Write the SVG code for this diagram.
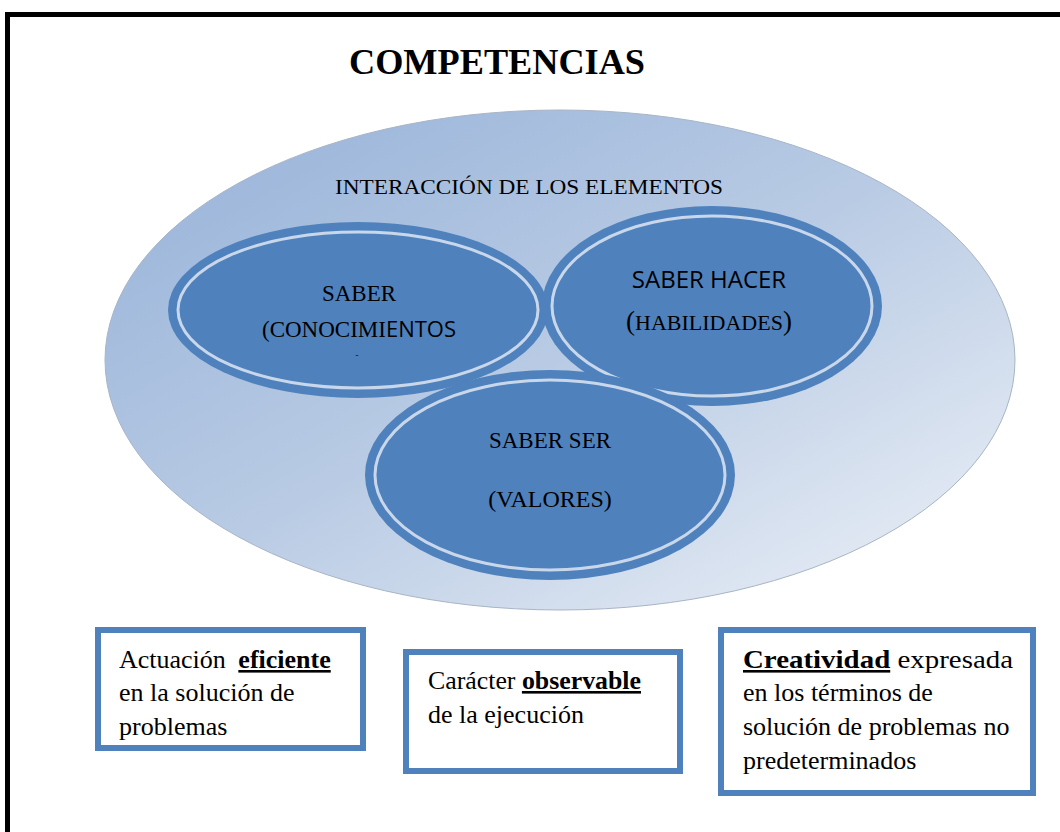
<svg xmlns="http://www.w3.org/2000/svg" width="1060" height="832" viewBox="0 0 1060 832">
<defs>
<linearGradient id="bg" x1="0" y1="0" x2="1" y2="1">
<stop offset="0" stop-color="#95b1d8"/>
<stop offset="0.5" stop-color="#b9cbe4"/>
<stop offset="1" stop-color="#eef2f8"/>
</linearGradient>
<style>
.t{font-family:"Liberation Serif","Times New Roman",serif;fill:#000}
.node .o{fill:#4f81bd}
.node .i{fill:#4f81bd;stroke:#c9d7eb;stroke-width:3}
.box{fill:#fff;stroke:#4f81bd;stroke-width:6}
.bt{font-family:"Liberation Serif","Times New Roman",serif;font-size:26px;fill:#000}
</style>
</defs>
<rect width="1060" height="832" fill="#fff"/>
<path d="M7.5 832 V14.5 H1060" fill="none" stroke="#000" stroke-width="5"/>
<text class="t" x="497" y="74" font-size="36" font-weight="bold" text-anchor="middle" textLength="296" lengthAdjust="spacingAndGlyphs">COMPETENCIAS</text>
<g id="outer">
<ellipse cx="560" cy="360" rx="455" ry="250" fill="url(#bg)" stroke="#a8b5c6" stroke-width="1"/>
<text class="t" x="529" y="194" font-size="21" text-anchor="middle" textLength="388" lengthAdjust="spacingAndGlyphs">INTERACCIÓN DE LOS ELEMENTOS</text>
</g>
<g id="saber" class="node">
<ellipse class="o" cx="358" cy="310" rx="190" ry="88"/>
<ellipse class="i" cx="358" cy="310" rx="180" ry="78"/>
<text class="t" x="359" y="301" font-size="23" text-anchor="middle">SABER</text>
<text class="t" x="359" y="337" font-size="23" text-anchor="middle">(CONOCIMI<tspan font-family="'Open Sans','Noto Sans',sans-serif" font-size="22">ENTOS</tspan></text>
<text class="t" x="357" y="358" font-size="9" text-anchor="middle">-</text>
</g>
<g id="saber-hacer" class="node">
<ellipse class="o" cx="712" cy="306" rx="170" ry="100"/>
<ellipse class="i" cx="712" cy="306" rx="160" ry="90"/>
<text x="709" y="288" font-size="24" text-anchor="middle" font-family="'Open Sans','Noto Sans',sans-serif" fill="#000">SABER HACER</text>
<text class="t" x="709" y="330" font-size="22" text-anchor="middle"><tspan font-size="27">(</tspan>HABILIDADES<tspan font-size="27">)</tspan></text>
</g>
<g id="saber-ser" class="node">
<ellipse class="o" cx="550" cy="475" rx="185" ry="105"/>
<ellipse class="i" cx="550" cy="475" rx="175" ry="95"/>
<text class="t" x="550" y="448" font-size="23" text-anchor="middle">SABER SER</text>
<text class="t" x="550" y="507" font-size="24" text-anchor="middle">(VALORES)</text>
</g>
<g id="connectors"></g>
<g id="box1">
<rect class="box" x="98" y="630" width="265" height="118"/>
<text class="bt" x="119" y="668">Actuación <tspan dx="6" font-weight="bold" text-decoration="underline">eficiente</tspan></text>
<text class="bt" x="119" y="701">en la solución de</text>
<text class="bt" x="119" y="735">problemas</text>
</g>
<g id="box2">
<rect class="box" x="406" y="652" width="274" height="119"/>
<text class="bt" x="428" y="689" textLength="213" lengthAdjust="spacingAndGlyphs">Carácter <tspan font-weight="bold" text-decoration="underline">observable</tspan></text>
<text class="bt" x="428" y="723">de la ejecución</text>
</g>
<g id="box3">
<rect class="box" x="721" y="630" width="312" height="163"/>
<text class="bt" x="743" y="668" textLength="270" lengthAdjust="spacingAndGlyphs"><tspan font-weight="bold" text-decoration="underline">Creatividad</tspan> expresada</text>
<text class="bt" x="743" y="701">en los términos de</text>
<text class="bt" x="743" y="735">solución de problemas no</text>
<text class="bt" x="743" y="769">predeterminados</text>
</g>
</svg>
